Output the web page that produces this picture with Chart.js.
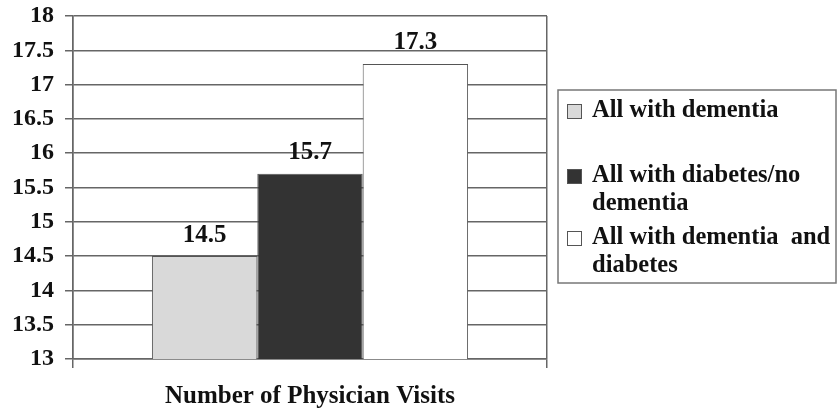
<!DOCTYPE html>
<html>
<head>
<meta charset="utf-8">
<script src="https://cdn.jsdelivr.net/npm/chart.js@4/dist/chart.umd.min.js"></script>
<style>
	html, body { margin: 0; padding: 0; background: #fff; }
	#wrap { width: 838px; height: 412px; }
</style>
</head>
<body>
<div id="wrap"><canvas id="chartVisits"></canvas></div>
<script>
const categories = ['Number of Physician Visits'];
const seriesNames = [
	['All with dementia'],
	['All with diabetes/no', 'dementia'],
	['All with dementia  and', 'diabetes']
];
const visits = [14.5, 15.7, 17.3];
const barColors = ['#d9d9d9', '#333333', '#ffffff'];
const yMin = 13;
const yMax = 18;
const yStep = 0.5;

const serif = "'Liberation Serif', 'Times New Roman', serif";
const lineColor = '#666666';

// value printed above each bar
const valueLabels = {
	id: 'valueLabels',
	afterDatasetsDraw(chart) {
		const {ctx} = chart;
		ctx.save();
		ctx.font = 'bold 25px ' + serif;
		ctx.fillStyle = '#111';
		ctx.textAlign = 'center';
		ctx.textBaseline = 'middle';
		chart.data.datasets.forEach((ds, i) => {
			chart.getDatasetMeta(i).data.forEach((bar, j) => {
				ctx.fillText(ds.data[j].toFixed(1), bar.x, bar.y - 21);
			});
		});
		ctx.restore();
	}
};

// boxed legend to the right, with wrapped names
const boxLegend = {
	id: 'boxLegend',
	afterDraw(chart) {
		const {ctx} = chart;
		const left = 558, top = 90, right = 836, bottom = 283;
		const rows = [111, 176, 238];
		ctx.save();
		ctx.strokeStyle = '#777';
		ctx.lineWidth = 1.5;
		ctx.strokeRect(left, top, right - left, bottom - top);
		ctx.font = 'bold 24.5px ' + serif;
		ctx.textBaseline = 'middle';
		chart.data.datasets.forEach((ds, i) => {
			const y = rows[i];
			ctx.fillStyle = ds.backgroundColor;
			ctx.fillRect(567, y - 7, 15, 15);
			ctx.strokeStyle = '#555';
			ctx.lineWidth = 1;
			ctx.strokeRect(567.5, y - 6.5, 14, 14);
			ctx.fillStyle = '#111';
			ds.label.forEach((line, k) => {
				ctx.fillText(line, 592, y + k * 28);
			});
		});
		ctx.restore();
	}
};

const datasets = visits.map((v, i) => ({
	label: seriesNames[i],
	data: [v],
	backgroundColor: barColors[i],
	borderColor: '#555',
	borderWidth: 1,
	borderSkipped: false,
	barPercentage: 1,
	categoryPercentage: 0.667
}));

new Chart(document.getElementById('chartVisits').getContext('2d'), {
	type: 'bar',
	data: {
		labels: categories,
		datasets: datasets
	},
	options: {
		responsive: true,
		maintainAspectRatio: false,
		animation: false,
		layout: {
			padding: {
				top: 16,
				left: 0,
				right: 291,
				bottom: 0
			}
		},
		scales: {
			x: {
				afterFit(scale) {
					scale.height = 53;
					scale.paddingLeft = 0;
					scale.paddingRight = 0;
				},
				grid: {
					display: true,
					offset: true,
					color: lineColor,
					lineWidth: 1.5,
					tickLength: 9
				},
				border: {
					color: lineColor,
					width: 1.5
				},
				ticks: {
					color: '#111',
					padding: 14,
					font: {
						family: serif,
						size: 25,
						weight: 'bold'
					}
				}
			},
			y: {
				min: yMin,
				max: yMax,
				afterFit(scale) {
					scale.width = 73;
					scale.paddingTop = 0;
					scale.paddingBottom = 0;
				},
				ticks: {
					stepSize: yStep,
					color: '#111',
					padding: 11,
					callback: (value) => String(value),
					font: {
						family: serif,
						size: 24,
						weight: 'bold'
					}
				},
				grid: {
					color: lineColor,
					lineWidth: 1.5,
					tickLength: 8
				},
				border: {
					color: lineColor,
					width: 1.5
				}
			}
		},
		plugins: {
			legend: {
				display: false
			},
			tooltip: {
				enabled: false
			}
		}
	},
	plugins: [valueLabels, boxLegend]
});
</script>
</body>
</html>
